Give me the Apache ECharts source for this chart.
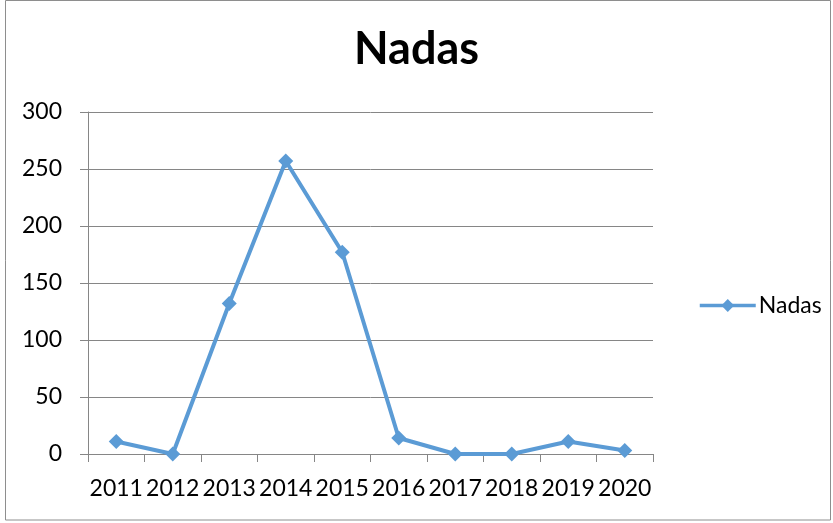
<!DOCTYPE html>
<html>
<head>
<meta charset="utf-8">
<script src="https://cdn.jsdelivr.net/npm/echarts@6/dist/echarts.min.js"></script>
<style>
  html, body { margin: 0; padding: 0; background: #fff; }
  #chart { width: 833px; height: 523px; }
</style>
</head>
<body>
<div id="chart"></div>
<script>
// Yearly counts for the "Nadas" series
const years = ['2011', '2012', '2013', '2014', '2015', '2016', '2017', '2018', '2019', '2020'];
const nadas = [11, 0, 132, 257, 177, 14, 0, 0, 11, 3];
const yTicks = { min: 0, max: 300, interval: 50 };

const FONT = 'Lato, "Open Sans", sans-serif';
const axisGray = '#868686';
const lineBlue = '#5b9bd5';

const chart = echarts.init(document.getElementById('chart'), null, { renderer: 'canvas' });
chart.setOption({
  animation: false,
  backgroundColor: '#ffffff',
  title: {
    text: 'Nadas',
    left: 'center',
    top: 22,
    textStyle: { fontFamily: FONT, fontSize: 45, fontWeight: 'bold', color: '#000' }
  },
  legend: {
    data: ['Nadas'],
    left: 693,
    top: 289,
    itemWidth: 56,
    itemHeight: 16,
    itemGap: 4,
    lineStyle: { width: 3.5, color: lineBlue },
    itemStyle: { color: lineBlue },
    textStyle: { fontFamily: FONT, fontSize: 23, color: '#000', padding: [0, 0, 0, -2] }
  },
  graphic: [{
    type: 'rect',
    shape: { x: 5.5, y: 0.5, width: 825, height: 519.5 },
    style: { fill: 'none', stroke: '#8e8e8e', lineWidth: 1 },
    silent: true
  }],
  grid: { left: 88, right: 180, top: 112, bottom: 69 },
  xAxis: {
    type: 'category',
    data: years,
    boundaryGap: true,
    axisLine: { lineStyle: { color: axisGray, width: 1 } },
    axisTick: { show: true, alignWithLabel: false, length: 8, lineStyle: { color: axisGray } },
    axisLabel: { fontFamily: FONT, fontSize: 23, color: '#000', margin: 23, interval: 0 },
    splitLine: { show: false }
  },
  yAxis: {
    type: 'value',
    min: yTicks.min,
    max: yTicks.max,
    interval: yTicks.interval,
    axisLine: { show: true, lineStyle: { color: axisGray, width: 1 } },
    axisTick: { show: true, length: 8, lineStyle: { color: axisGray } },
    axisLabel: { fontFamily: FONT, fontSize: 23, color: '#000', margin: 26 },
    splitLine: { show: true, lineStyle: { color: axisGray, width: 1 } }
  },
  series: [{
    name: 'Nadas',
    type: 'line',
    data: nadas,
    symbol: 'diamond',
    symbolSize: 15,
    showAllSymbol: true,
    lineStyle: { color: lineBlue, width: 4 },
    itemStyle: { color: lineBlue, borderWidth: 0 }
  }]
});
</script>
</body>
</html>
